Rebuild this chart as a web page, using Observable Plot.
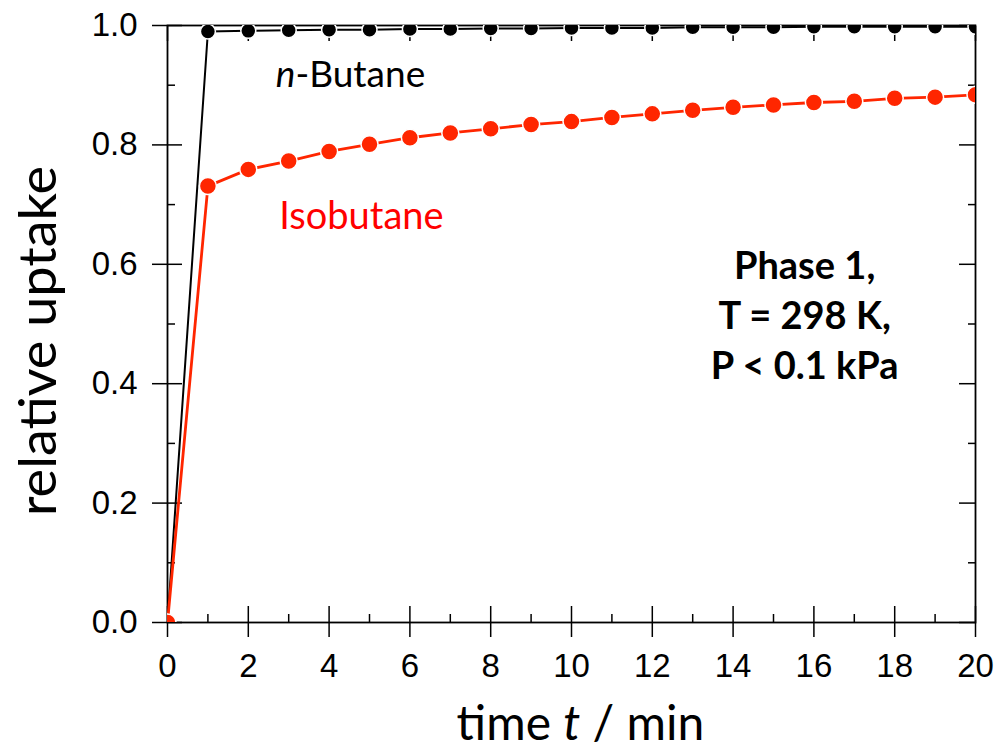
<!DOCTYPE html>
<html>
<head>
<meta charset="utf-8">
<script src="https://cdn.jsdelivr.net/npm/d3@7"></script>
<script src="https://cdn.jsdelivr.net/npm/@observablehq/plot@0.6"></script>
<style>
  html, body { margin: 0; padding: 0; background: #ffffff; }
  #chart { width: 999px; height: 753px; }
</style>
</head>
<body>
<div id="chart"></div>
<script>
// ---- data ----
const time = [0, 1, 2, 3, 4, 5, 6, 7, 8, 9, 10, 11, 12, 13, 14, 15, 16, 17, 18, 19, 20];
const nButane = [0, 0.990, 0.991, 0.992, 0.993, 0.993, 0.994, 0.994, 0.995, 0.995, 0.996, 0.996, 0.996, 0.997, 0.997, 0.997, 0.998, 0.998, 0.998, 0.998, 0.998];
const isobutane = [0, 0.731, 0.759, 0.773, 0.789, 0.801, 0.812, 0.820, 0.827, 0.834, 0.839, 0.846, 0.852, 0.858, 0.863, 0.867, 0.871, 0.873, 0.878, 0.880, 0.884];
const xTickLabels = [0, 2, 4, 6, 8, 10, 12, 14, 16, 18, 20];
const xMinorTicks = [1, 3, 5, 7, 9, 11, 13, 15, 17, 19];
const yTickLabels = [0, 0.2, 0.4, 0.6, 0.8, 1.0];
const yMinorTicks = [0.1, 0.3, 0.5, 0.7, 0.9];
const xTitle = "time t / min";
const yTitle = "relative uptake";
const notes = [
  {x: 4.53, y: 0.916, text: "n-Butane", color: "#000000", size: 37},
  {x: 4.80, y: 0.680, text: "Isobutane", color: "#ff0000", size: 38}
];
const phaseNote = [{x: 15.77, y: 0.519, text: "Phase 1,\nT = 298 K,\nP < 0.1 kPa"}];

const butaneRows = time.map((t, i) => ({t, v: nButane[i]}));
const isoRows = time.map((t, i) => ({t, v: isobutane[i]}));

const RED = "#ff2600";
const FONT = "Lato, 'Open Sans', sans-serif";
const noText = () => "";

const chart = Plot.plot({
  width: 999,
  height: 753,
  marginLeft: 167,
  marginRight: 24,
  marginTop: 25,
  marginBottom: 131,
  style: {fontFamily: "'Liberation Sans', Arial, sans-serif", fontSize: "33px", color: "#000", background: "#fff"},
  x: {domain: [0, 20]},
  y: {domain: [0, 1]},
  marks: [
    // ticks: left
    Plot.axisY({anchor: "left", ticks: yTickLabels, tickSize: 30, dx: 15, tickFormat: noText, label: null, strokeWidth: 1.5}),
    Plot.axisY({anchor: "left", ticks: yMinorTicks, tickSize: 8, dx: 8, tickFormat: noText, label: null, strokeWidth: 1.5}),
    Plot.axisY({anchor: "left", ticks: yTickLabels, tickSize: 0, tickPadding: 30, tickFormat: d3.format(".1f"), label: null}),
    // ticks: right
    Plot.axisY({anchor: "right", ticks: yTickLabels, tickSize: 17, dx: -17, tickFormat: noText, label: null, strokeWidth: 1.5}),
    Plot.axisY({anchor: "right", ticks: yMinorTicks, tickSize: 8, dx: -8, tickFormat: noText, label: null, strokeWidth: 1.5}),
    // ticks: bottom
    Plot.axisX({anchor: "bottom", ticks: xTickLabels, tickSize: 31, dy: -16, tickFormat: noText, label: null, strokeWidth: 1.5}),
    Plot.axisX({anchor: "bottom", ticks: xMinorTicks, tickSize: 8, dy: -8, tickFormat: noText, label: null, strokeWidth: 1.5}),
    Plot.axisX({anchor: "bottom", ticks: xTickLabels, tickSize: 0, tickPadding: 31, tickFormat: d3.format("d"), label: null}),
    // ticks: top
    Plot.axisX({anchor: "top", ticks: xTickLabels, tickSize: 15, dy: 15, tickFormat: noText, label: null, strokeWidth: 1.5}),
    Plot.axisX({anchor: "top", ticks: xMinorTicks, tickSize: 8, dy: 8, tickFormat: noText, label: null, strokeWidth: 1.5}),
    Plot.frame({stroke: "#000", strokeWidth: 1.8}),
    // series
    Plot.line(butaneRows, {x: "t", y: "v", stroke: "#000", strokeWidth: 2, clip: true}),
    Plot.dot(butaneRows, {x: "t", y: "v", r: 7.5, fill: "#000", stroke: "#fff", strokeWidth: 1.5, clip: true}),
    Plot.line(isoRows, {x: "t", y: "v", stroke: RED, strokeWidth: 2.8, clip: true}),
    Plot.dot(isoRows, {x: "t", y: "v", r: 8.5, fill: RED, stroke: "#fff", strokeWidth: 1.5, clip: true}),
    // annotations
    Plot.text(notes, {x: "x", y: "y", text: "text", fill: "color", fontSize: "size", fontFamily: FONT}),
    Plot.text(phaseNote, {x: "x", y: "y", text: "text", fill: "#000", fontWeight: "bold", fontSize: 38, lineHeight: 1.32, fontFamily: FONT}),
    // axis titles
    Plot.text([yTitle], {text: d => d, frameAnchor: "left", textAnchor: "middle", lineAnchor: "middle", rotate: -90, dx: -128, dy: 17, fontSize: 52, fill: "#000", fontFamily: FONT}),
    Plot.text([xTitle], {text: d => d, frameAnchor: "bottom", textAnchor: "middle", lineAnchor: "middle", dx: 9, dy: 102, fontSize: 48, fill: "#000", fontFamily: FONT})
  ]
});

document.getElementById("chart").appendChild(chart);

// italic letters inside texts
function italicize(full, italicPart, startIndex) {
  d3.select(chart).selectAll("text").each(function () {
    if (this.textContent === full) {
      const el = d3.select(this);
      const before = full.slice(0, startIndex);
      const after = full.slice(startIndex + italicPart.length);
      el.text(null);
      if (before) el.append("tspan").text(before);
      el.append("tspan").attr("font-style", "italic").text(italicPart);
      if (after) el.append("tspan").text(after);
    }
  });
}
italicize("n-Butane", "n", 0);
italicize(xTitle, "t", 5);

// the reference's vertical title is drawn slightly elongated
d3.select(chart).selectAll("text").each(function () {
  if (this.textContent === yTitle) {
    d3.select(this).attr("textLength", 350).attr("lengthAdjust", "spacingAndGlyphs");
  }
});
</script>
</body>
</html>
